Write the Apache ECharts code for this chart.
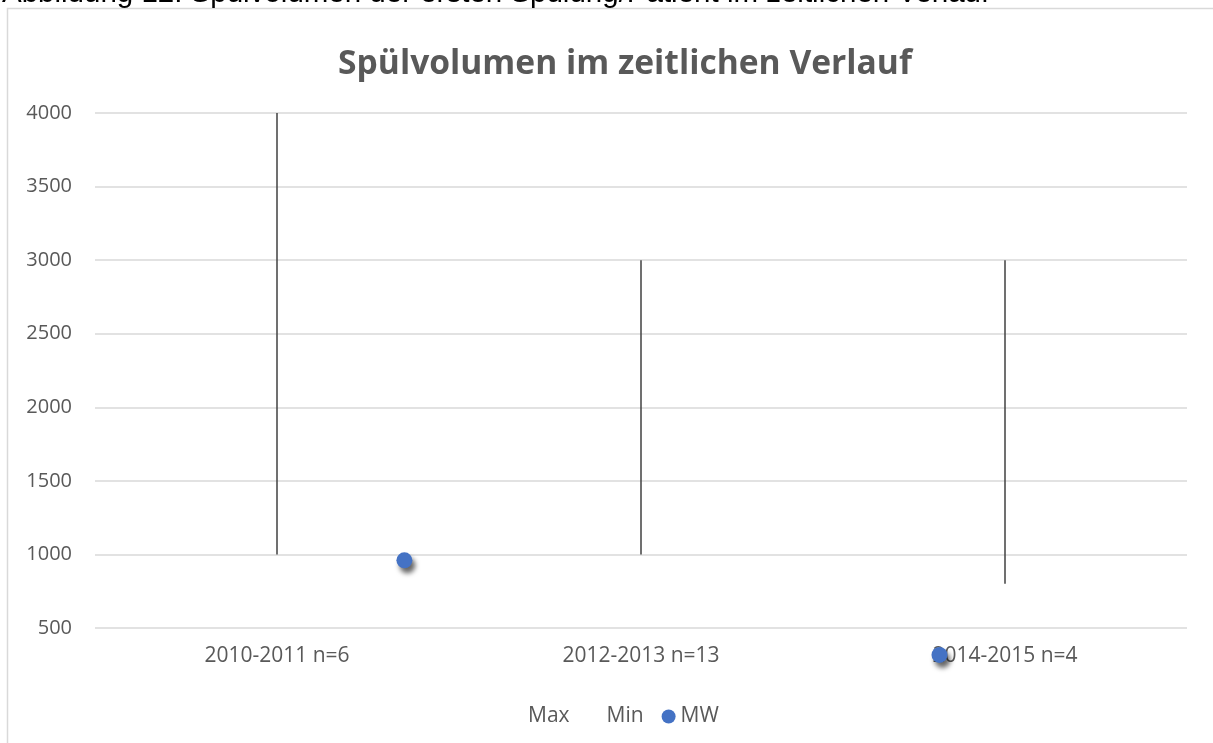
<!DOCTYPE html>
<html>
<head>
<meta charset="utf-8">
<title>Spülvolumen im zeitlichen Verlauf</title>
<script src="https://cdn.jsdelivr.net/npm/echarts@6/dist/echarts.min.js"></script>
<style>
  html, body { margin: 0; padding: 0; background: #fff; }
  #chart { width: 1213px; height: 743px; }
</style>
</head>
<body>
<div id="chart"></div>
<script>
// Daten
const categories = ['2010-2011 n=6', '2012-2013 n=13', '2014-2015 n=4'];
const maxValues = [4000, 3000, 3000];
const minValues = [1000, 1000, 800];
// MW-Punkte: [x-Position auf der Kategorienachse, Wert]
const mwPoints = [[0.35, 960], [1.82, 317]];
const yTicks = { min: 500, max: 4000, interval: 500 };

const chart = echarts.init(document.getElementById('chart'));
const font = '"Open Sans", "Segoe UI", sans-serif';
const textGray = '#595959';

const option = {
	animation: false,
	graphic: [
		{
			type: 'rect',
			shape: { x: 7.5, y: 8.5, width: 1300, height: 800 },
			style: { fill: 'none', stroke: '#d9d9d9', lineWidth: 1.5 },
			z: -1
		},
		{
			type: 'text',
			left: 2,
			top: -21,
			style: {
				text: 'Abbildung 12: Spülvolumen der ersten Spülung/Patient im zeitlichen Verlauf',
				font: '29.5px "Liberation Sans", Arial, sans-serif',
				fill: '#000'
			}
		}
	],
	title: {
		text: 'Spülvolumen im zeitlichen Verlauf',
		left: 620,
		top: 42,
		textAlign: 'center',
		textStyle: { fontFamily: font, fontSize: 33.6, fontWeight: 'bold', color: textGray }
	},
	legend: {
		left: 504,
		top: 701,
		itemGap: 18,
		itemWidth: 14,
		itemHeight: 14,
		textStyle: { fontFamily: font, fontSize: 21, color: textGray },
		data: [
			{ name: 'Max', icon: 'circle', itemStyle: { opacity: 0 } },
			{ name: 'Min', icon: 'circle', itemStyle: { opacity: 0 } },
			{ name: 'MW', icon: 'circle' }
		]
	},
	grid: { left: 95, right: 26, top: 113, bottom: 115 },
	xAxis: [
		{
			type: 'category',
			data: categories,
			axisLine: { show: false },
			axisTick: { show: false },
			axisLabel: { fontFamily: font, fontSize: 21, color: textGray, margin: 18 }
		},
		{
			type: 'value',
			min: -0.5,
			max: 2.5,
			show: false
		}
	],
	yAxis: {
		type: 'value',
		min: yTicks.min,
		max: yTicks.max,
		interval: yTicks.interval,
		axisLine: { show: false },
		axisTick: { show: false },
		axisLabel: {
			fontFamily: font,
			fontSize: 20,
			color: textGray,
			margin: 23,
			formatter: (v) => String(v)
		},
		splitLine: { lineStyle: { color: '#d9d9d9', width: 1.5 } }
	},
	series: [
		{
			name: 'Max',
			type: 'line',
			data: maxValues,
			symbol: 'none',
			lineStyle: { opacity: 0 },
			itemStyle: { color: '#404040' }
		},
		{
			name: 'Min',
			type: 'line',
			data: minValues,
			symbol: 'none',
			lineStyle: { opacity: 0 },
			itemStyle: { color: '#404040' }
		},
		{
			// Hoch-Tief-Linien
			type: 'custom',
			data: categories.map((c, i) => [i, minValues[i], maxValues[i]]),
			renderItem(params, api) {
				const low = api.coord([api.value(0), api.value(1)]);
				const high = api.coord([api.value(0), api.value(2)]);
				return {
					type: 'line',
					shape: { x1: low[0], y1: low[1], x2: high[0], y2: high[1] },
					style: { stroke: '#404040', lineWidth: 1.5 }
				};
			}
		},
		{
			name: 'MW',
			type: 'scatter',
			xAxisIndex: 1,
			data: mwPoints,
			symbolSize: 16,
			clip: false,
			itemStyle: {
				color: '#4472C4',
				opacity: 1,
				shadowBlur: 5,
				shadowOffsetX: 3,
				shadowOffsetY: 5,
				shadowColor: 'rgba(0,0,0,0.6)'
			},
			z: 5
		}
	]
};
chart.setOption(option);
</script>
</body>
</html>
